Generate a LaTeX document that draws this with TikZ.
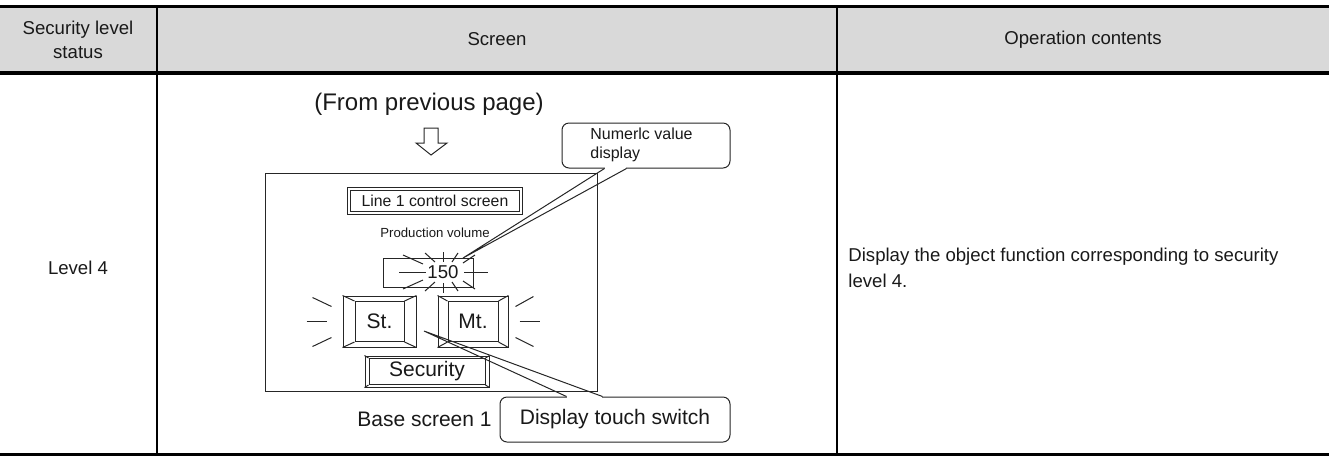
\documentclass[tikz,border=0pt]{standalone}
\usepackage{fontspec}
\setmainfont{Liberation Sans}
\usetikzlibrary{calc,positioning}
\definecolor{hdrGray}{RGB}{217,217,217}
\definecolor{inkGray}{RGB}{38,38,38}
\definecolor{txtGray}{RGB}{25,25,25}
\tikzset{
  hdr/.style={inner sep=0pt, text=txtGray, font=\fontsize{9.3}{12}\selectfont},
  scr/.style={inner sep=0pt, text=txtGray, font=\fontsize{9.3}{11}\selectfont},
  big/.style={inner sep=0pt, text=txtGray, font=\fontsize{10.5}{12}\selectfont},
  tiny/.style={inner sep=0pt, text=txtGray, font=\fontsize{6.6}{8}\selectfont},
  frame/.style={draw=inkGray, line width=0.5pt},
  box/.style={frame, inner sep=0pt},
  dblbox/.style={draw=inkGray, line width=0.5pt, double, double distance=1.2pt, inner sep=0pt, text=txtGray, font=\fontsize{7.9}{9}\selectfont},
  callout/.style={box, rounded corners=3.5pt, fill=white},
  ray/.style={draw=inkGray, line width=0.5pt}
}

\begin{document}
\begin{tikzpicture}[x=0.5pt,y=-0.5pt]
\useasboundingbox (0,0) rectangle (1329,457);
% table
\fill[hdrGray] (0,8) rectangle (1329,71);
\draw[line width=1.5pt] (0,6.5) -- (1329,6.5);
\draw[line width=2pt] (0,73) -- (1329,73);
\draw[line width=1.5pt] (0,454.5) -- (1329,454.5);
\draw[line width=1pt] (157,8) -- (157,453);
\draw[line width=1pt] (837,8) -- (837,453);
\node[hdr, align=center] (hstatus) at (78,39.5) {Security level\\status};
\node[hdr] (hscreen) at (497,39.5) {Screen};
\node[hdr] (hop) at (1083,39.5) {Operation contents};
\node[hdr] (lvl) at (78,268) {Level 4};
\node[hdr, anchor=west, align=left, font=\fontsize{9.3}{13}\selectfont] (opdesc) at (848,268)
  {Display the object function corresponding to security\\level 4.};

% screen column
\node[scr, font=\fontsize{12}{14}\selectfont] (from) at (429,104) {(From previous page)};
\draw[frame] (424,128) -- (438,128) -- (438,143) -- (447,143) -- (431,155)
  -- (416,143) -- (424,143) -- cycle;
\draw[frame] (265,173) rectangle (597,391);
\node[dblbox, minimum width=85.8pt, minimum height=11.8pt] (title) at (435,201) {Line 1 control screen};
\node[tiny] (prod) at (435,233) {Production volume};

\node[box, minimum width=45pt, minimum height=14.5pt] (valbox) at (428,272.5) {};
\node[scr] (val) at (443,272) {150};
\foreach \a/\b/\c/\d in {-44/0/-17/0, 21/0/45/0, 0/-20/0/-10, 0/11/0/21,
    -40/-17/-20/-8, -18/-19/-8/-10, 15/-19/9/-10, 32/-17/20/-9,
    -40/17/-20/8, -18/19/-8/10, 15/19/9/10, 32/17/20/9}
  \draw[ray] ($(val)+(\a,\b)$) -- ($(val)+(\c,\d)$);

% touch switches
\node[box, minimum width=36.5pt, minimum height=25.5pt] (st) at (379.5,321.5) {};
\node[box, big, minimum width=24.5pt, minimum height=20pt] (stin) at (st) {St.};
\node[box, minimum width=35pt, minimum height=25.5pt] (mt) at (473,321.5) {};
\node[box, big, minimum width=25pt, minimum height=20pt] (mtin) at (mt) {Mt.};
\node[box, minimum width=62pt, minimum height=15.5pt] (sec) at (427,371.5) {};
\node[box, big, minimum width=58pt, minimum height=13pt] (secin) at (sec) {Security};
\foreach \c in {north west, north east, south west, south east} {
  \draw[ray] (st.\c) -- (stin.\c);
  \draw[ray] (mt.\c) -- (mtin.\c);
  \draw[ray] (sec.\c) -- (secin.\c);
}
\foreach \a/\b/\c/\d in {-30/-24/-11/-15, -36/0/-16/0, -30/25/-11/16}
  \draw[ray] ($(st.west)+(\a,\b)$) -- ($(st.west)+(\c,\d)$);
\foreach \a/\b/\c/\d in {7/-15/25/-25, 11/0/31/0, 7/16/25/25}
  \draw[ray] ($(mt.east)+(\a,\b)$) -- ($(mt.east)+(\c,\d)$);

\node[big, anchor=east] (base) at (492,419) {Base screen 1};

% callouts
\node[callout, minimum width=84pt, minimum height=22.5pt] (numbox) at (646,145.5) {};
\node[inner sep=0pt, text=txtGray, font=\fontsize{8}{9.5}\selectfont, anchor=west, align=left]
  (numtxt) at (590,144.5) {Numerlc value\\display};
\coordinate (numtip) at (463,258);
\fill[white] ($(numbox.south west)+(43.8,-1.5)$) rectangle ($(numbox.south west)+(64.2,1.5)$);
\draw[ray] ($(numbox.south west)+(43,0)$) -- (numtip) -- ($(numbox.south west)+(65,0)$);

\node[callout, big, minimum width=115pt, minimum height=22.5pt] (swbox) at (615,419.5) {Display touch switch};
\coordinate (swtip) at (424,331);
\fill[white] ($(swbox.north west)+(67.8,-1.5)$) rectangle ($(swbox.north west)+(102.2,1.5)$);
\draw[ray] ($(swbox.north west)+(67,0)$) -- (swtip) -- ($(swbox.north west)+(103,0)$);
\end{tikzpicture}
\end{document}
